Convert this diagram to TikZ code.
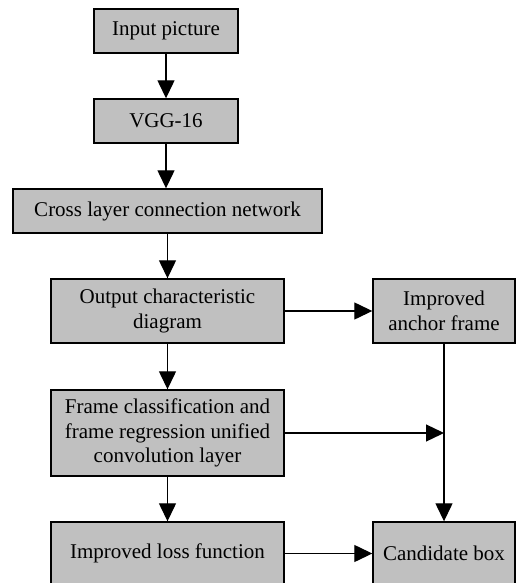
\documentclass[tikz,border=0pt]{standalone}
\usepackage{fontspec}
\setmainfont{Liberation Serif}
\usetikzlibrary{arrows.meta}
\definecolor{boxgray}{RGB}{192,192,192}
\begin{document}
\begin{tikzpicture}[x=1pt,y=-1pt,
  box/.style={draw=black, line width=1.4pt, fill=boxgray, inner sep=0pt,
    align=center, font=\fontsize{21}{24.5}\selectfont},
  conn/.style={line width=1.3pt, -{Triangle[length=18pt,width=17pt]}}]
\useasboundingbox (0,0) rectangle (516,583);
\clip (0,0) rectangle (516,583);
\node[box, minimum width=144pt, minimum height=44pt] (in) at (166,31) {Input picture};
\node[box, minimum width=144pt, minimum height=44pt] (vgg) at (166,121) {VGG-16};
\node[box, minimum width=309pt, minimum height=44pt] (cross) at (167.5,211) {Cross layer connection network};
\node[box, minimum width=233pt, minimum height=64pt] (out) at (167.5,311) {Output characteristic\\diagram};
\node[box, minimum width=142pt, minimum height=64pt] (anc) at (444,311) {Improved\\anchor frame};
\node[box, minimum width=233pt, minimum height=86pt] (frame) at (167.5,433) {Frame classification and\\frame regression unified\\convolution layer};
\node[box, minimum width=233pt, minimum height=63pt] (loss) at (167.5,553.5) {Improved loss function};
\node[box, minimum width=142pt, minimum height=63pt] (cand) at (444,553.5) {Candidate box};
\coordinate (j) at (anc.south |- frame.east);
\draw[conn] (in) -- (vgg);
\draw[conn] (vgg.south) -- (vgg.south |- cross.north);
\draw[conn] (out.north |- cross.south) -- (out.north);
\draw[conn] (out) -- (anc);
\draw[conn] (out) -- (frame);
\draw[conn] (frame) -- (loss);
\draw[conn] (frame.east) -- (j);
\draw[conn] (anc.south) -- (cand.north);
\draw[conn] (loss) -- (cand);
\end{tikzpicture}
\end{document}
